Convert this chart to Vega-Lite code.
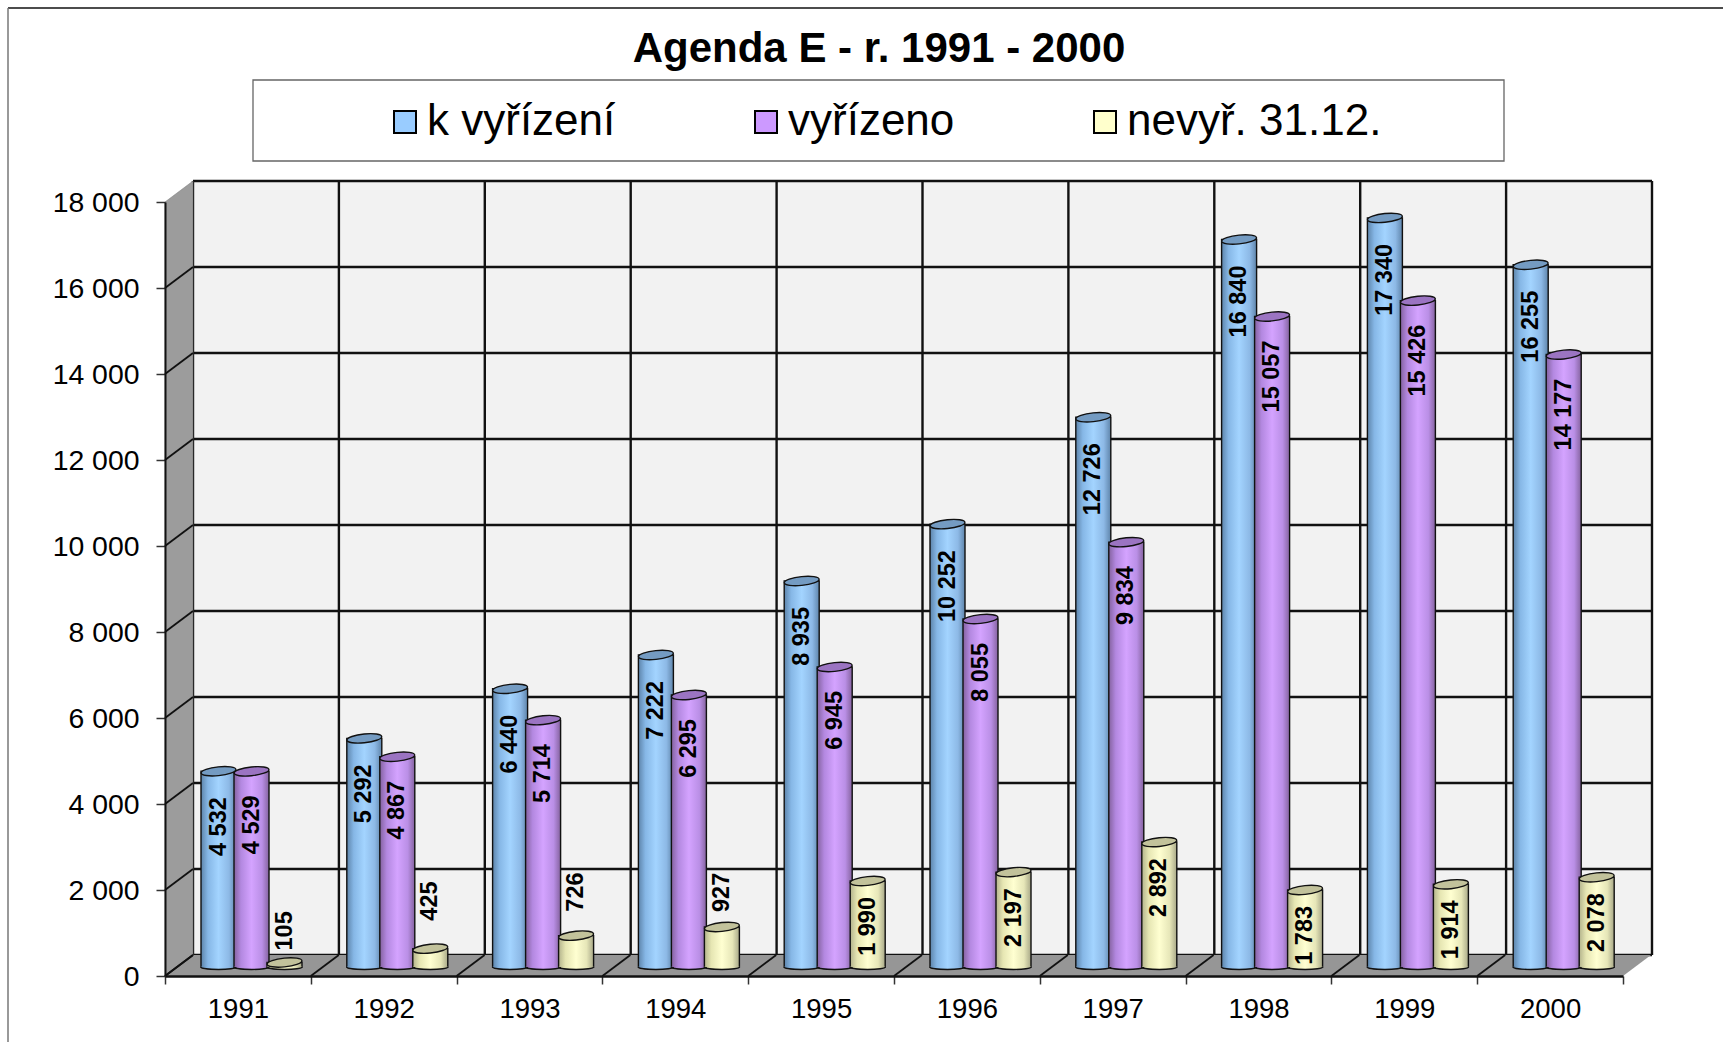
{
"$schema":"https://vega.github.io/schema/vega-lite/v6.json",
"autosize":"none","width":1458,"height":795,
"padding":{"left":165,"top":181,"right":100,"bottom":66},
"background":"white",
"config":{"view":{"stroke":null},"font":"Liberation Sans","locale":{"number":{"decimal":",","thousands":" ","grouping":[3],"currency":["","Kč"]}}},
"title":{"text":"Agenda E - r. 1991 - 2000","font":"Liberation Sans","fontSize":42,"fontWeight":"bold","color":"black","anchor":"middle","dx":-15,"offset":-64},
"datasets":{
"bars":[
{"year":"1991","series":"k vyřízení","value":4532},{"year":"1991","series":"vyřízeno","value":4529},{"year":"1991","series":"nevyř. 31.12.","value":105},
{"year":"1992","series":"k vyřízení","value":5292},{"year":"1992","series":"vyřízeno","value":4867},{"year":"1992","series":"nevyř. 31.12.","value":425},
{"year":"1993","series":"k vyřízení","value":6440},{"year":"1993","series":"vyřízeno","value":5714},{"year":"1993","series":"nevyř. 31.12.","value":726},
{"year":"1994","series":"k vyřízení","value":7222},{"year":"1994","series":"vyřízeno","value":6295},{"year":"1994","series":"nevyř. 31.12.","value":927},
{"year":"1995","series":"k vyřízení","value":8935},{"year":"1995","series":"vyřízeno","value":6945},{"year":"1995","series":"nevyř. 31.12.","value":1990},
{"year":"1996","series":"k vyřízení","value":10252},{"year":"1996","series":"vyřízeno","value":8055},{"year":"1996","series":"nevyř. 31.12.","value":2197},
{"year":"1997","series":"k vyřízení","value":12726},{"year":"1997","series":"vyřízeno","value":9834},{"year":"1997","series":"nevyř. 31.12.","value":2892},
{"year":"1998","series":"k vyřízení","value":16840},{"year":"1998","series":"vyřízeno","value":15057},{"year":"1998","series":"nevyř. 31.12.","value":1783},
{"year":"1999","series":"k vyřízení","value":17340},{"year":"1999","series":"vyřízeno","value":15426},{"year":"1999","series":"nevyř. 31.12.","value":1914},
{"year":"2000","series":"k vyřízení","value":16255},{"year":"2000","series":"vyřízeno","value":14177},{"year":"2000","series":"nevyř. 31.12.","value":2078}
],
"ticks":[{"v":0},{"v":2000},{"v":4000},{"v":6000},{"v":8000},{"v":10000},{"v":12000},{"v":14000},{"v":16000},{"v":18000}],
"tickDepth":[{"v":0,"v2":488},{"v":2000,"v2":2488},{"v":4000,"v2":4488},{"v":6000,"v2":6488},{"v":8000,"v2":8488},{"v":10000,"v2":10488},{"v":12000,"v2":12488},{"v":14000,"v2":14488},{"v":16000,"v2":16488},{"v":18000,"v2":18488}],
"edges":[{"e":1991},{"e":1992},{"e":1993},{"e":1994},{"e":1995},{"e":1996},{"e":1997},{"e":1998},{"e":1999},{"e":2000},{"e":2001}],
"edgeDepth":[{"e":1991,"e2":1991.192},{"e":1992,"e2":1992.192},{"e":1993,"e2":1993.192},{"e":1994,"e2":1994.192},{"e":1995,"e2":1995.192},{"e":1996,"e2":1996.192},{"e":1997,"e2":1997.192},{"e":1998,"e2":1998.192},{"e":1999,"e2":1999.192},{"e":2000,"e2":2000.192},{"e":2001,"e2":2001.192}],
"years":[{"year":"1991"},{"year":"1992"},{"year":"1993"},{"year":"1994"},{"year":"1995"},{"year":"1996"},{"year":"1997"},{"year":"1998"},{"year":"1999"},{"year":"2000"}],
"leftWall":[{"yr":1991,"lo":0,"hi":18000},{"yr":1991.192,"lo":488,"hi":18488}],
"floor":[{"val":0,"xlo":1991,"xhi":2001},{"val":488,"xlo":1991.192,"xhi":2001.192}],
"one":[{"n":1}]
},
"resolve":{"scale":{"x":"independent","y":"independent"}},
"layer":[
{"data":{"name":"one"},"layer":[
 {"mark":{"type":"rule","stroke":"#111111","strokeWidth":1.5},"encoding":{"x":{"datum":0,"type":"quantitative","axis":null,"scale":{"domain":[0,1],"range":[-157,1558]}},"x2":{"datum":1},"y":{"datum":0,"type":"quantitative","axis":null,"scale":{"domain":[0,1],"range":[-173,861]}}}},
 {"mark":{"type":"rule","stroke":"#777777","strokeWidth":1.5},"encoding":{"x":{"datum":0,"type":"quantitative","axis":null},"y":{"datum":0,"type":"quantitative","axis":null},"y2":{"datum":1}}}
]},
{"data":{"name":"one"},"mark":{"type":"rect","fill":"white","stroke":"#666666","strokeWidth":1.3},"encoding":{
 "x":{"datum":0,"type":"quantitative","axis":null,"scale":{"domain":[0,1],"range":[88,1339]}},"x2":{"datum":1},
 "y":{"datum":0,"type":"quantitative","axis":null,"scale":{"domain":[0,1],"range":[-101,-20]}},"y2":{"datum":1}}},
{"layer":[
 {"data":{"name":"one"},"mark":{"type":"rect","fill":"#f2f2f2"},"encoding":{
  "x":{"datum":1991,"type":"quantitative","axis":null,"scale":{"domain":[1991,2001],"range":[28,1487]}},"x2":{"datum":2001},
  "y":{"datum":0,"type":"quantitative","axis":null,"scale":{"domain":[0,18000],"range":[774,0]}},"y2":{"datum":18000}}},
 {"data":{"name":"ticks"},"mark":{"type":"rule","stroke":"#111111","strokeWidth":2.4},"encoding":{
  "x":{"datum":1991,"type":"quantitative","axis":null},"x2":{"datum":2001},
  "y":{"field":"v","type":"quantitative","axis":null}}},
 {"data":{"name":"edges"},"mark":{"type":"rule","stroke":"#111111","strokeWidth":2.4},"encoding":{
  "x":{"field":"e","type":"quantitative","axis":null},
  "y":{"datum":0,"type":"quantitative","axis":null},"y2":{"datum":18000}}}
]},
{"layer":[
 {"data":{"name":"leftWall"},"mark":{"type":"area","fill":"#9c9c9c","stroke":"#777777","strokeWidth":0.5},"encoding":{
  "x":{"field":"yr","type":"quantitative","axis":null,"scale":{"domain":[1991,2001],"range":[0,1458]}},
  "y":{"field":"lo","type":"quantitative","axis":null,"scale":{"domain":[0,18000],"range":[795,21]}},"y2":{"field":"hi"}}},
 {"data":{"name":"floor"},"mark":{"type":"area","orient":"horizontal","fill":"#969696"},"encoding":{
  "y":{"field":"val","type":"quantitative","axis":null},
  "x":{"field":"xlo","type":"quantitative","axis":null},"x2":{"field":"xhi"}}},
 {"data":{"name":"tickDepth"},"transform":[{"filter":"datum.v<18000"}],"mark":{"type":"rule","stroke":"#111111","strokeWidth":1.8},"encoding":{
  "x":{"datum":1991,"type":"quantitative","axis":null},"x2":{"datum":1991.192},
  "y":{"field":"v","type":"quantitative","axis":null},"y2":{"field":"v2"}}},
 {"data":{"name":"edgeDepth"},"transform":[{"filter":"datum.e<2001"}],"mark":{"type":"rule","stroke":"#111111","strokeWidth":1.8},"encoding":{
  "x":{"field":"e","type":"quantitative","axis":null},"x2":{"field":"e2"},
  "y":{"datum":0,"type":"quantitative","axis":null},"y2":{"datum":488}}}
]},
{"data":{"name":"years"},"mark":{"type":"rule","opacity":0},"encoding":{
 "x":{"field":"year","type":"ordinal","scale":{"type":"band","paddingInner":0,"paddingOuter":0,"range":[0,1458]},
  "axis":{"title":null,"labelAngle":0,"tickBand":"extent","tickSize":8,"tickColor":"#333333","tickWidth":1.5,"domainColor":"#111111","domainWidth":2.5,"labelFontSize":27.5,"labelFont":"Liberation Sans","labelColor":"black","labelPadding":11,"zindex":1}},
 "y":{"datum":0,"type":"quantitative","scale":{"domain":[0,18000],"range":[795,21]},
  "axis":{"title":null,"values":[0,2000,4000,6000,8000,10000,12000,14000,16000,18000],"format":",.0f","grid":false,"tickSize":9,"tickColor":"#333333","tickWidth":1.5,"domainColor":"#111111","domainWidth":2,"labelFontSize":28.4,"labelFont":"Liberation Sans","labelColor":"black","labelPadding":17,"zindex":1}}}},
{"data":{"name":"bars"},
 "encoding":{
  "x":{"field":"year","type":"ordinal","axis":null,"scale":{"type":"band","paddingInner":0,"paddingOuter":0,"range":[13.6,1471.6]}},
  "xOffset":{"field":"series","sort":["k vyřízení","vyřízeno","nevyř. 31.12."],"scale":{"type":"point","padding":0,"domain":["k vyřízení","vyřízeno","nevyř. 31.12."],"range":[39.9,105.9]}},
  "y":{"field":"value","type":"quantitative","axis":null,"scale":{"domain":[0,18000],"range":[786,8.4]}}
 },
 "layer":[
  {"transform":[{"filter":"datum.series=='k vyřízení'"}],"layer":[
   {"mark":{"type":"bar","width":35,"stroke":"#111111","strokeWidth":1.4,"fill":{"gradient":"linear","x1":0,"x2":1,"y1":0,"y2":0,"stops":[{"offset":0,"color":"#5d84aa"},{"offset":0.2,"color":"#86b7e6"},{"offset":0.5,"color":"#a3d4ff"},{"offset":0.8,"color":"#8db9e6"},{"offset":1,"color":"#5f85ab"}]}}},
   {"mark":{"type":"point","filled":true,"opacity":1,"size":1225,"shape":"M-1,0A1,0.14,0,0,0,1,0A1,0.14,0,0,0,-1,0Z","strokeWidth":0,"fill":{"gradient":"linear","x1":0,"x2":1,"y1":0,"y2":0,"stops":[{"offset":0,"color":"#5d84aa"},{"offset":0.2,"color":"#86b7e6"},{"offset":0.5,"color":"#a3d4ff"},{"offset":0.8,"color":"#8db9e6"},{"offset":1,"color":"#5f85ab"}]}},"encoding":{"y":{"datum":0,"type":"quantitative"}}}
  ]},
  {"transform":[{"filter":"datum.series=='vyřízeno'"}],"layer":[
   {"mark":{"type":"bar","width":35,"stroke":"#111111","strokeWidth":1.4,"fill":{"gradient":"linear","x1":0,"x2":1,"y1":0,"y2":0,"stops":[{"offset":0,"color":"#84629f"},{"offset":0.2,"color":"#b388e0"},{"offset":0.5,"color":"#d4a3ff"},{"offset":0.8,"color":"#ba8fe6"},{"offset":1,"color":"#85639f"}]}}},
   {"mark":{"type":"point","filled":true,"opacity":1,"size":1225,"shape":"M-1,0A1,0.14,0,0,0,1,0A1,0.14,0,0,0,-1,0Z","strokeWidth":0,"fill":{"gradient":"linear","x1":0,"x2":1,"y1":0,"y2":0,"stops":[{"offset":0,"color":"#84629f"},{"offset":0.2,"color":"#b388e0"},{"offset":0.5,"color":"#d4a3ff"},{"offset":0.8,"color":"#ba8fe6"},{"offset":1,"color":"#85639f"}]}},"encoding":{"y":{"datum":0,"type":"quantitative"}}}
  ]},
  {"transform":[{"filter":"datum.series=='nevyř. 31.12.'"}],"layer":[
   {"mark":{"type":"bar","width":35,"stroke":"#111111","strokeWidth":1.4,"fill":{"gradient":"linear","x1":0,"x2":1,"y1":0,"y2":0,"stops":[{"offset":0,"color":"#b3b38c"},{"offset":0.2,"color":"#e6e6b3"},{"offset":0.5,"color":"#ffffd1"},{"offset":0.8,"color":"#e6e6b8"},{"offset":1,"color":"#a8a888"}]}}},
   {"mark":{"type":"point","filled":true,"opacity":1,"size":1225,"shape":"M-1,0A1,0.14,0,0,0,1,0A1,0.14,0,0,0,-1,0Z","strokeWidth":0,"fill":{"gradient":"linear","x1":0,"x2":1,"y1":0,"y2":0,"stops":[{"offset":0,"color":"#b3b38c"},{"offset":0.2,"color":"#e6e6b3"},{"offset":0.5,"color":"#ffffd1"},{"offset":0.8,"color":"#e6e6b8"},{"offset":1,"color":"#a8a888"}]}},"encoding":{"y":{"datum":0,"type":"quantitative"}}}
  ]},
  {"mark":{"type":"point","filled":false,"opacity":1,"size":1225,"shape":"M-1,0A1,0.14,0,0,0,1,0","stroke":"#111111","strokeWidth":1.4},"encoding":{
   "y":{"datum":0,"type":"quantitative"}}},
  {"mark":{"type":"point","filled":true,"opacity":1,"size":1225,"shape":"M-0.995,0.1A1,0.25,-6,1,1,0.995,-0.1A1,0.25,-6,1,1,-0.995,0.1Z"},"encoding":{
   "color":{"field":"series","scale":{"domain":["k vyřízení","vyřízeno","nevyř. 31.12."],"range":["#99ccff","#cc99ff","#ffffcc"]},
    "legend":{"title":null,"orient":"none","legendX":218,"legendY":-81,"direction":"horizontal","columns":3,"columnPadding":128,"labelFontSize":44,"labelLimit":500,"labelFont":"Liberation Sans","labelColor":"black","labelOffset":0,"symbolSize":484,"symbolType":"square","symbolStrokeColor":"black","symbolStrokeWidth":2,"symbolOpacity":1,"padding":0}}}},
  {"mark":{"type":"point","filled":true,"opacity":1,"size":1225,"shape":"M-0.995,0.1A1,0.25,-6,1,1,0.995,-0.1A1,0.25,-6,1,1,-0.995,0.1Z","fill":"#000000","fillOpacity":0.24,"stroke":"#111111","strokeWidth":1.4,"strokeOpacity":1}},
  {"transform":[{"filter":"datum.series=='k vyřízení'"}],"mark":{"type":"text","angle":270,"align":"right","baseline":"middle","fontSize":23.5,"fontWeight":"bold","font":"Liberation Sans","color":"black","yOffset":26},"encoding":{"text":{"field":"value","type":"quantitative","format":","}}},
  {"transform":[{"filter":"datum.series=='vyřízeno'"}],"mark":{"type":"text","angle":270,"align":"right","baseline":"middle","fontSize":23.5,"fontWeight":"bold","font":"Liberation Sans","color":"black","yOffset":24},"encoding":{"text":{"field":"value","type":"quantitative","format":","}}},
  {"transform":[{"filter":"datum.series=='nevyř. 31.12.' && datum.value>1000"}],"mark":{"type":"text","angle":270,"align":"right","baseline":"middle","fontSize":23.5,"fontWeight":"bold","font":"Liberation Sans","color":"black","yOffset":16},"encoding":{"text":{"field":"value","type":"quantitative","format":","}}},
  {"transform":[{"filter":"datum.value==105"}],"mark":{"type":"text","angle":270,"align":"left","baseline":"middle","fontSize":23.5,"fontWeight":"bold","font":"Liberation Sans","color":"black","yOffset":-12},"encoding":{"text":{"field":"value","type":"quantitative","format":","}}},
  {"transform":[{"filter":"datum.value==425"}],"mark":{"type":"text","angle":270,"align":"left","baseline":"middle","fontSize":23.5,"fontWeight":"bold","font":"Liberation Sans","color":"black","yOffset":-28},"encoding":{"text":{"field":"value","type":"quantitative","format":","}}},
  {"transform":[{"filter":"datum.value==726"}],"mark":{"type":"text","angle":270,"align":"left","baseline":"middle","fontSize":23.5,"fontWeight":"bold","font":"Liberation Sans","color":"black","yOffset":-24},"encoding":{"text":{"field":"value","type":"quantitative","format":","}}},
  {"transform":[{"filter":"datum.value==927"}],"mark":{"type":"text","angle":270,"align":"left","baseline":"middle","fontSize":23.5,"fontWeight":"bold","font":"Liberation Sans","color":"black","yOffset":-15},"encoding":{"text":{"field":"value","type":"quantitative","format":","}}}
 ]}
]
}
